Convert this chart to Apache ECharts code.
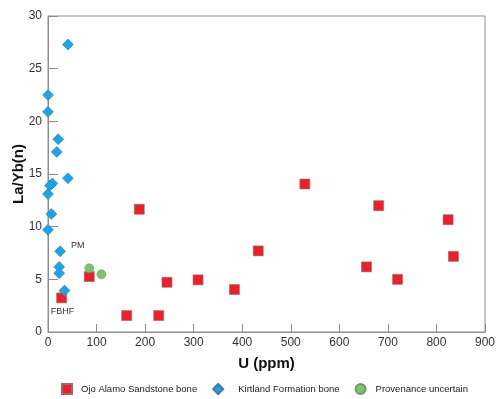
<!DOCTYPE html>
<html>
<head>
<meta charset="utf-8">
<script src="https://cdn.jsdelivr.net/npm/echarts@6/dist/echarts.min.js"></script>
<style>
  html, body { margin: 0; padding: 0; background: #fff; }
  #chart { width: 500px; height: 399px; }
</style>
</head>
<body>
<div id="chart"></div>
<script>
// U (ppm) vs La/Yb(n)
const ojoU    = [188, 85, 28, 162, 228, 245, 309, 384, 433, 529, 656, 681, 720, 824, 835]
const ojoLaYb = [11.65, 5.26, 3.24, 1.56, 1.56, 4.72, 4.95, 4.03, 7.70, 14.05, 6.18, 11.99, 5.0, 10.66, 7.18]

const kirtU    = [41, 0, 0, 21, 18, 41, 9, 4, 0, 7, 0, 25, 23, 23, 34]
const kirtLaYb = [27.3, 22.5, 20.9, 18.3, 17.1, 14.6, 14.1, 13.9, 13.1, 11.2, 9.7, 7.66, 6.18, 5.58, 3.93]

const provU    = [85, 110]
const provLaYb = [6.05, 5.48]

const seriesNames = ["Ojo Alamo Sandstone bone", "Kirtland Formation bone", "Provenance uncertain"]

const xTicks = [0, 100, 200, 300, 400, 500, 600, 700, 800, 900]
const yTicks = [0, 5, 10, 15, 20, 25, 30]

// point labels: series name -> { index: text }
const pointNotes = {
  "Ojo Alamo Sandstone bone": { 2: "FBHF" },
  "Kirtland Formation bone": { 11: "PM" },
}

const toPoints = (name, xs, ys) =>
  xs.map((x, i) => {
    const note = (pointNotes[name] || {})[i]
    if (!note) return [x, ys[i]]
    const isPM = note === "PM"
    return {
      value: [x, ys[i]],
      label: {
        show: true,
        formatter: note,
        position: isPM ? "right" : "bottom",
        offset: isPM ? [1, -6] : [1, 0],
        distance: 4,
        color: "#333",
        fontSize: 9,
        fontFamily: "Liberation Sans, Arial, sans-serif",
      },
    }
  })

const chart = echarts.init(document.getElementById("chart"), null, { renderer: "canvas" })
const axisGray = "#8c8c8c"
const font = "Liberation Sans, Arial, sans-serif"

const option = {
  animation: false,
  textStyle: { fontFamily: font },
  grid: {
    left: 48,
    right: 15,
    top: 16,
    bottom: 67,
    containLabel: false,
    outerBoundsMode: "none",
    show: true,
    borderColor: axisGray,
    borderWidth: 1,
    backgroundColor: "transparent",
  },
  legend: {
    data: [
      { name: seriesNames[0], icon: "rect", textStyle: { padding: [0, 0, 0, 4] } },
      { name: seriesNames[1], icon: "diamond", textStyle: { padding: [0, 4, 0, 10] } },
      { name: seriesNames[2], icon: "circle", textStyle: { padding: [0, 0, 0, 5] } },
    ],
    left: 56,
    top: 378,
    itemWidth: 10,
    itemHeight: 10,
    itemGap: 15,
    textStyle: { fontSize: 9.5, color: "#222" },
  },
  xAxis: {
    type: "value",
    min: 0,
    max: 900,
    interval: 100,
    name: "U (ppm)",
    nameLocation: "middle",
    nameGap: 24,
    nameTextStyle: { fontSize: 15, fontWeight: "bold", color: "#111" },
    axisLine: { show: true, lineStyle: { color: axisGray } },
    axisTick: { show: true, inside: true, length: 8, lineStyle: { color: axisGray } },
    axisLabel: { fontSize: 12, color: "#333", margin: 5 },
    splitLine: { show: false },
  },
  yAxis: {
    type: "value",
    min: 0,
    max: 30,
    interval: 5,
    name: "La/Yb(n)",
    nameLocation: "middle",
    nameGap: 22,
    nameMoveOverlap: false,
    nameTextStyle: { fontSize: 15, fontWeight: "bold", color: "#111" },
    axisLine: { show: true, lineStyle: { color: axisGray } },
    axisTick: { show: true, inside: true, length: 10, lineStyle: { color: axisGray } },
    axisLabel: { fontSize: 12, color: "#333", margin: 6 },
    splitLine: { show: false },
  },
  series: [
    {
      name: seriesNames[0],
      type: "scatter",
      symbol: "rect",
      symbolSize: 10,
      itemStyle: { color: "#e8212a", borderColor: "#9a6a6a", borderWidth: 0.6, opacity: 1 },
      data: toPoints(seriesNames[0], ojoU, ojoLaYb),
    },
    {
      name: seriesNames[1],
      type: "scatter",
      symbol: "diamond",
      symbolSize: 11,
      itemStyle: { color: "#1ca5e6", borderColor: "#4a7a9a", borderWidth: 0.6, opacity: 1 },
      data: toPoints(seriesNames[1], kirtU, kirtLaYb),
    },
    {
      name: seriesNames[2],
      type: "scatter",
      symbol: "circle",
      symbolSize: 9,
      itemStyle: { color: "#7cc36e", borderColor: "#6a9a6a", borderWidth: 0.6, opacity: 1 },
      data: toPoints(seriesNames[2], provU, provLaYb),
    },
  ],
}
chart.setOption(option)
window.addEventListener("resize", () => chart.resize())
</script>
</body>
</html>
